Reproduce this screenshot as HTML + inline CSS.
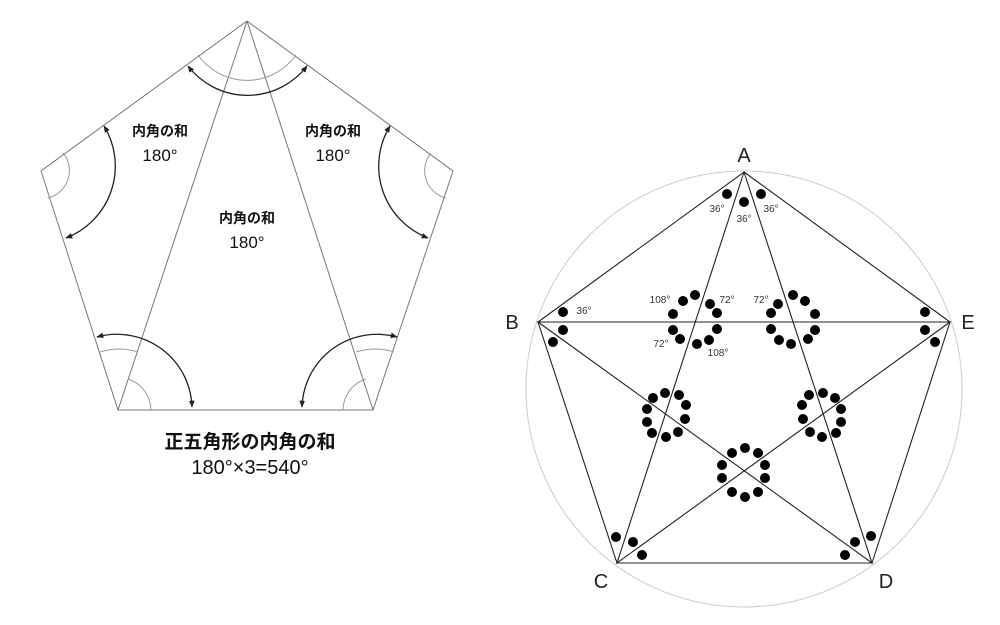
<!DOCTYPE html>
<html><head><meta charset="utf-8"><style>
html,body{margin:0;padding:0;background:#fff;}
svg{display:block;}
text{font-family:"Liberation Sans","Noto Sans CJK JP",sans-serif;}
</style></head><body>
<svg width="1000" height="625" viewBox="0 0 1000 625" xmlns="http://www.w3.org/2000/svg">
<defs>
<marker id="ar" viewBox="0 0 10 10" refX="9" refY="5" markerWidth="7" markerHeight="7" orient="auto-start-reverse" markerUnits="userSpaceOnUse">
<path d="M0,1 L10,5 L0,9 z" fill="#222"/></marker>
</defs>
<g fill="none" stroke="#777" stroke-width="1">
<polygon points="247,21 453,171 373,410 118,410 41,171"/>
<line x1="247" y1="21" x2="118" y2="410"/>
<line x1="247" y1="21" x2="373" y2="410"/>
<path d="M198,55 A60,60 0 0 0 296,55" stroke="#999"/>
<path d="M63,153 A28,28 0 0 1 48,198" stroke="#999"/>
<path d="M431,153 A28,28 0 0 0 446,198" stroke="#999"/>
<path d="M100,352 A62,62 0 0 1 138,352" stroke="#999"/>
<path d="M128,379 A33,33 0 0 1 151,410" stroke="#999"/>
<path d="M394,352 A62,62 0 0 0 356,352" stroke="#999"/>
<path d="M366,379 A33,33 0 0 0 343,410" stroke="#999"/>
</g>
<g fill="none" stroke="#222" stroke-width="1.3" marker-start="url(#ar)" marker-end="url(#ar)">
<path d="M188,66 A75,75 0 0 0 307,66"/>
<path d="M104,126 A77,77 0 0 1 66,238"/>
<path d="M390,126 A77,77 0 0 0 428,238"/>
<path d="M97,337 A75,75 0 0 1 192,407"/>
<path d="M397,337 A75,75 0 0 0 302,407"/>
</g>
<g fill="#111" text-anchor="middle">
<text x="160" y="136" font-size="14" font-weight="bold">内角の和</text><text x="160" y="161" font-size="17">180°</text>
<text x="333" y="136" font-size="14" font-weight="bold">内角の和</text><text x="333" y="161" font-size="17">180°</text>
<text x="247" y="223" font-size="14" font-weight="bold">内角の和</text><text x="247" y="248" font-size="17">180°</text>
</g>
<g fill="#111" text-anchor="middle">
<text x="250" y="448" font-size="19" font-weight="bold">正五角形の内角の和</text>
<text x="250" y="474" font-size="20">180°×3=540°</text>
</g>
<circle cx="744" cy="389" r="218" fill="none" stroke="#ccc" stroke-width="1"/>
<g fill="none" stroke="#222" stroke-width="1.1">
<polygon points="744,172 950,322 872,563 617,563 538,322"/>
<polyline points="744,172 617,563 950,322 538,322 872,563 744,172"/>
</g>
<g font-size="20" fill="#222" text-anchor="middle">
<text x="744" y="162">A</text><text x="512" y="329">B</text><text x="968" y="329">E</text>
<text x="601" y="588">C</text><text x="886" y="588">D</text>
</g>
<g font-size="10" fill="#333" text-anchor="middle">
<text x="717" y="212">36°</text><text x="744" y="222">36°</text><text x="771" y="212">36°</text>
<text x="584" y="314">36°</text>
<text x="660" y="303">108°</text><text x="727" y="303">72°</text><text x="761" y="303">72°</text>
<text x="661" y="347">72°</text><text x="718" y="356">108°</text>
</g>
<g fill="#000">
<circle cx="727" cy="194" r="5"/><circle cx="744" cy="202" r="5"/><circle cx="761" cy="194" r="5"/>
<circle cx="563" cy="312" r="5"/><circle cx="563" cy="330" r="5"/><circle cx="553" cy="342" r="5"/>
<circle cx="925" cy="312" r="5"/><circle cx="925" cy="330" r="5"/><circle cx="935" cy="342" r="5"/>
<circle cx="616" cy="537" r="5"/><circle cx="633" cy="542" r="5"/><circle cx="642" cy="555" r="5"/>
<circle cx="871" cy="536" r="5"/><circle cx="855" cy="542" r="5"/><circle cx="845" cy="555" r="5"/>
<circle cx="683" cy="301" r="5"/><circle cx="695" cy="295" r="5"/><circle cx="710" cy="304" r="5"/><circle cx="717" cy="313" r="5"/><circle cx="717" cy="329" r="5"/><circle cx="709" cy="340" r="5"/><circle cx="697" cy="344" r="5"/><circle cx="680" cy="339" r="5"/><circle cx="673" cy="330" r="5"/><circle cx="673" cy="314" r="5"/>
<circle cx="805" cy="301" r="5"/><circle cx="793" cy="295" r="5"/><circle cx="778" cy="304" r="5"/><circle cx="771" cy="313" r="5"/><circle cx="771" cy="329" r="5"/><circle cx="779" cy="340" r="5"/><circle cx="791" cy="344" r="5"/><circle cx="808" cy="339" r="5"/><circle cx="815" cy="330" r="5"/><circle cx="815" cy="314" r="5"/>
<circle cx="653" cy="398" r="5"/><circle cx="665" cy="393" r="5"/><circle cx="679" cy="395" r="5"/><circle cx="686" cy="405" r="5"/><circle cx="685" cy="419" r="5"/><circle cx="678" cy="432" r="5"/><circle cx="666" cy="437" r="5"/><circle cx="652" cy="433" r="5"/><circle cx="647" cy="422" r="5"/><circle cx="647" cy="409" r="5"/>
<circle cx="835" cy="398" r="5"/><circle cx="823" cy="393" r="5"/><circle cx="809" cy="395" r="5"/><circle cx="802" cy="405" r="5"/><circle cx="803" cy="419" r="5"/><circle cx="810" cy="432" r="5"/><circle cx="822" cy="437" r="5"/><circle cx="836" cy="433" r="5"/><circle cx="841" cy="422" r="5"/><circle cx="841" cy="409" r="5"/>
<circle cx="745" cy="448" r="5"/><circle cx="732" cy="453" r="5"/><circle cx="758" cy="453" r="5"/><circle cx="722" cy="465" r="5"/><circle cx="765" cy="465" r="5"/><circle cx="722" cy="478" r="5"/><circle cx="765" cy="478" r="5"/><circle cx="732" cy="492" r="5"/><circle cx="758" cy="492" r="5"/><circle cx="745" cy="497" r="5"/>
</g>
</svg>
</body></html>
